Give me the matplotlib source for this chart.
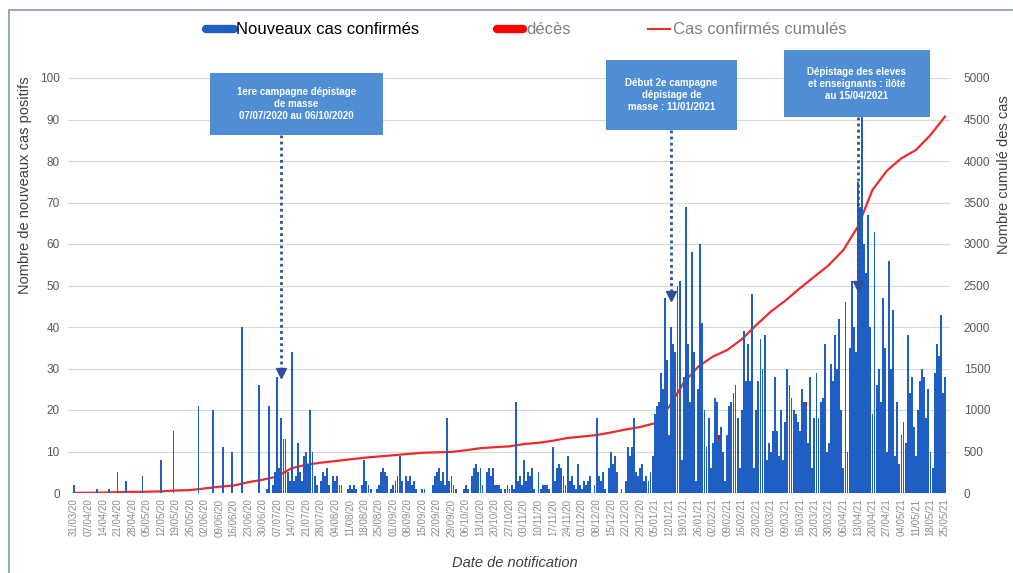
import matplotlib
matplotlib.use("Agg")
import matplotlib.pyplot as plt
import numpy as np
import pandas as pd
from matplotlib.lines import Line2D
from matplotlib.patches import Rectangle

plt.rcParams["font.family"] = ["Liberation Sans", "DejaVu Sans"]

# ---------------------------------------------------------------------------
# Data
# ---------------------------------------------------------------------------
START = "2020-03-31"
END = "2021-05-25"

# daily new confirmed cases, one list per month
cas_2020_03 = [2]
cas_2020_04 = [0, 0, 0, 0, 0, 0, 0, 0, 0, 0, 1, 0, 0, 0, 0, 0, 1, 0, 0, 0,
               5, 0, 0, 0, 3, 0, 0, 0, 0, 0]
cas_2020_05 = [0, 0, 4, 0, 0, 0, 0, 0, 0, 0, 0, 8, 0, 0, 0, 0, 0, 15, 0, 0,
               0, 0, 0, 0, 0, 0, 0, 0, 0, 21, 0]
cas_2020_06 = [0, 0, 0, 0, 0, 20, 0, 0, 0, 0, 11, 0, 0, 0, 10, 0, 0, 0, 0, 40,
               0, 0, 0, 0, 0, 0, 0, 26, 0, 0]
cas_2020_07 = [0, 1, 21, 0, 2, 5, 28, 6, 18, 13, 13, 5, 3, 34, 3, 4, 12, 5, 3, 9,
               10, 7, 20, 10, 4, 2, 0, 3, 5, 4, 6]
cas_2020_08 = [2, 0, 4, 3, 4, 2, 2, 0, 0, 1, 2, 1, 2, 1, 0, 0, 2, 8, 3, 2,
               1, 0, 0, 1, 2, 5, 6, 5, 4, 0, 1]
cas_2020_09 = [2, 3, 4, 9, 3, 0, 4, 3, 4, 2, 3, 1, 0, 0, 1, 1, 0, 0, 0, 2,
               4, 5, 6, 3, 5, 2, 18, 3, 4, 2]
cas_2020_10 = [1, 0, 0, 0, 1, 2, 1, 0, 4, 6, 7, 5, 6, 2, 0, 5, 6, 4, 6, 2,
               2, 2, 1, 0, 1, 2, 1, 2, 1, 22, 3]
cas_2020_11 = [4, 2, 8, 3, 5, 4, 6, 1, 0, 5, 1, 2, 2, 2, 1, 0, 11, 3, 6, 7,
               6, 4, 2, 9, 3, 4, 2, 1, 7, 2]
cas_2020_12 = [1, 3, 2, 3, 4, 0, 2, 18, 4, 3, 5, 1, 0, 6, 10, 7, 9, 5, 0, 1,
               0, 3, 11, 9, 11, 18, 5, 4, 6, 7, 3]
cas_2021_01 = [4, 3, 5, 9, 19, 21, 22, 29, 25, 47, 32, 14, 40, 36, 34, 50, 51, 8, 28, 69,
               36, 22, 58, 34, 3, 25, 60, 41, 20, 11, 18]
cas_2021_02 = [6, 12, 23, 22, 13, 16, 10, 3, 14, 21, 22, 24, 26, 18, 6, 20, 39, 27, 36, 27,
               48, 6, 20, 27, 37, 30, 38, 8]
cas_2021_03 = [12, 10, 15, 28, 15, 9, 20, 8, 17, 30, 26, 23, 20, 19, 17, 15, 25, 22, 21, 12,
               28, 6, 18, 29, 18, 22, 23, 36, 10, 12, 31]
cas_2021_04 = [27, 38, 30, 42, 20, 6, 46, 10, 35, 51, 40, 34, 75, 69, 91, 60, 53, 67, 40, 19,
               63, 26, 30, 22, 47, 35, 10, 56, 30, 44]
cas_2021_05 = [9, 22, 7, 14, 17, 12, 38, 24, 28, 16, 9, 20, 27, 30, 28, 18, 25, 10, 6, 29,
               36, 33, 43, 24, 28]

# deaths (stacked on top of the new cases)
deces_dates = ["2021-02-05", "2021-03-19"]
deces_values = [1, 1]

# cumulative confirmed cases, read at each weekly tick (31/03/20 ... 25/05/21)
cumul_hebdo = [2, 3, 5, 10, 13, 15, 20, 30, 35, 55,
               75, 90, 130, 160, 200, 300, 340, 365, 385, 405,
               425, 440, 455, 470, 485, 490, 495, 515, 540, 552,
               562, 590, 605, 630, 663, 680, 698, 730, 765, 795,
               840, 1040, 1330, 1522, 1643, 1723, 1852, 2024, 2185, 2318,
               2466, 2607, 2747, 2928, 3210, 3651, 3884, 4033, 4133, 4314,
               4535]

annotations = [
    ("1ere campagne dépistage\nde masse\n07/07/2020 au 06/10/2020", "2020-07-09", 28),
    ("Début 2e campagne\ndépistage de\nmasse : 11/01/2021", "2021-01-13", 46.5),
    ("Dépistage des eleves\net enseignants : ilôté\nau 15/04/2021", "2021-04-13", 49),
]

# ---------------------------------------------------------------------------
# Plot
# ---------------------------------------------------------------------------
W, H = 1013, 573
BLUE = "#1F5FC4"
RED = "#FF0000"
LINE_RED = "#EE2A2A"
BOX_BLUE = "#4F8DD4"
ARROW_BLUE = "#2F4F9A"
GREY = "#595959"


def fx(px):
    return px / W


def fy(py):
    return 1 - py / H


dates = pd.date_range(START, END, freq="D")
day = np.arange(len(dates))
cas = np.array(cas_2020_03 + cas_2020_04 + cas_2020_05 + cas_2020_06 + cas_2020_07
               + cas_2020_08 + cas_2020_09 + cas_2020_10 + cas_2020_11 + cas_2020_12
               + cas_2021_01 + cas_2021_02 + cas_2021_03 + cas_2021_04 + cas_2021_05)
deces = np.zeros(len(dates))
for d, v in zip(deces_dates, deces_values):
    deces[(pd.Timestamp(d) - pd.Timestamp(START)).days] = v
week_days = day[::7]


def day_of(s):
    return (pd.Timestamp(s) - pd.Timestamp(START)).days


fig = plt.figure(figsize=(W / 100, H / 100), dpi=100)
ax = fig.add_axes([fx(68), fy(493), fx(950) - fx(68), fy(78) - fy(493)])
ax2 = ax.twinx()
ax.set_zorder(ax2.get_zorder() + 1)
ax.patch.set_visible(False)

ax.bar(day, cas, width=0.9, color=BLUE, linewidth=0)
ax.bar(day, deces, width=0.9, bottom=cas, color=RED, linewidth=0)

ax2.plot(week_days, cumul_hebdo, color=LINE_RED, lw=1.6)

ax.set_xlim(-2.9, 422.4)
ax.set_ylim(0, 100)
ax2.set_ylim(0, 5000)
ax.set_yticks(np.arange(0, 101, 10))
ax2.set_yticks(np.arange(0, 5001, 500))
ax.set_xticks(week_days)
ax.set_xticklabels([dates[i].strftime("%d/%m/%y") for i in week_days],
                   rotation=90, fontsize=7, color="#8C8C8C")
ax.tick_params(axis="x", length=0, pad=4)
ax.tick_params(axis="y", length=0, labelsize=8.5, labelcolor=GREY, pad=6)
ax2.tick_params(axis="y", length=0, labelsize=8.5, labelcolor=GREY, pad=10)
ax2.grid(axis="y", color="#D9D9D9", lw=0.8)
ax2.set_axisbelow(True)
for a in (ax, ax2):
    for s in a.spines.values():
        s.set_visible(False)
ax.axhline(0, color="#D9D9D9", lw=0.8, zorder=0)

# annotation boxes with dotted arrows
boxes = [(65.6, 149.0, 86.3, 101.2), (256.5, 319.6, 87.5, 104.3), (342.3, 412.7, 90.6, 106.7)]
for (label, target, y_end), (x0, x1, y0, y1) in zip(annotations, boxes):
    ax.add_patch(Rectangle((x0, y0), x1 - x0, y1 - y0, facecolor=BOX_BLUE,
                           edgecolor="none", clip_on=False, zorder=5))
    ax.text((x0 + x1) / 2, (y0 + y1) / 2, label, ha="center", va="center",
            color="white", fontsize=7, fontweight="bold", linespacing=1.25,
            zorder=6, clip_on=False)
    xa = day_of(target)
    ax.plot([xa, xa], [y0, y_end + 1.5], color=ARROW_BLUE, lw=2, ls=(0, (1, 1.2)),
            zorder=6, clip_on=False)
    ax.plot([xa], [y_end + 1], marker="v", color=ARROW_BLUE, markersize=7, zorder=6)

# legend drawn by hand at the top
ly = fy(29)
fig.add_artist(Line2D([fx(206), fx(234)], [ly, ly], color=BLUE, lw=6, solid_capstyle="round"))
fig.text(fx(236), ly, "Nouveaux cas confirmés", fontsize=12, color="black", va="center")
fig.add_artist(Line2D([fx(497), fx(523)], [ly, ly], color=RED, lw=6, solid_capstyle="round"))
fig.text(fx(526), ly, "décès", fontsize=12, color="#7F7F7F", va="center")
fig.add_artist(Line2D([fx(648), fx(670)], [ly, ly], color=LINE_RED, lw=1.5))
fig.text(fx(673), ly, "Cas confirmés cumulés", fontsize=12, color="#7F7F7F", va="center")

# axis titles
fig.text(fx(25), fy(185), "Nombre de nouveaux cas positifs", rotation=90,
         ha="center", va="center", fontsize=10.5, color="#404040")
fig.text(fx(1004), fy(175), "Nombre cumulé des cas", rotation=90,
         ha="center", va="center", fontsize=10.5, color="#404040")
fig.text(fx(515), fy(563), "Date de notification", ha="center", va="center",
         fontsize=10.5, style="italic", color="#404040")

# outer frame
fig.add_artist(Rectangle((fx(9), -0.02), 1.1, fy(10) + 0.02, transform=fig.transFigure,
                         fill=False, edgecolor="#8AA3C2", lw=1.3))

fig.savefig("out.png", dpi=100)
